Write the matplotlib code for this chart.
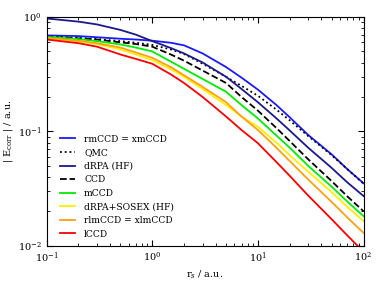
import matplotlib
matplotlib.use("Agg")
import matplotlib.pyplot as plt

rs = [0.1, 0.2, 0.3, 0.5, 0.7, 1, 1.5, 2, 3, 5, 7, 10, 15, 20, 30, 50, 70, 100]
rs_m = [0.1, 0.2, 0.3, 0.5, 0.7, 1, 5, 7, 10, 15, 20, 30, 50, 70, 100]

rmCCD = [0.69, 0.68, 0.665, 0.645, 0.635, 0.62, 0.595, 0.565, 0.48, 0.365, 0.295, 0.232,
         0.17, 0.133, 0.093, 0.063, 0.047, 0.0353]
QMC = [0.675, 0.655, 0.64, 0.615, 0.595, 0.57, 0.52, 0.475, 0.39, 0.30, 0.25, 0.205,
       0.155, 0.125, 0.091, 0.062, 0.047, 0.035]
dRPA = [0.97, 0.91, 0.86, 0.77, 0.70, 0.615, 0.535, 0.48, 0.40, 0.30, 0.235, 0.18,
        0.13, 0.102, 0.072, 0.048, 0.036, 0.0273]
CCD = [0.67, 0.65, 0.635, 0.60, 0.58, 0.55, 0.47, 0.415, 0.34, 0.265, 0.20, 0.152,
       0.107, 0.0825, 0.057, 0.0368, 0.0272, 0.0201]
mCCD = [0.67, 0.64, 0.615, 0.575, 0.54, 0.50, 0.222, 0.17, 0.13,
        0.092, 0.0722, 0.05, 0.0329, 0.0245, 0.0182]
SOSEX = [0.65, 0.61, 0.58, 0.52, 0.47, 0.42, 0.35, 0.30, 0.235, 0.17, 0.135, 0.11,
         0.08, 0.0621, 0.0445, 0.0295, 0.022, 0.0165]
rlmCCD = [0.655, 0.62, 0.59, 0.54, 0.49, 0.44, 0.365, 0.31, 0.245, 0.18, 0.135, 0.103,
          0.072, 0.0552, 0.038, 0.0242, 0.0178, 0.013]
lCCD = [0.635, 0.59, 0.55, 0.47, 0.43, 0.39, 0.315, 0.265, 0.20, 0.135, 0.103, 0.079,
        0.054, 0.041, 0.0275, 0.0171, 0.0124, 0.0089]

labels = ["rmCCD = xmCCD", "QMC", "dRPA (HF)", "CCD", "mCCD",
          "dRPA+SOSEX (HF)", "rlmCCD = xlmCCD", "lCCD"]

plt.rcParams['font.family'] = ['DejaVu Serif']
plt.rcParams['mathtext.fontset'] = 'dejavuserif'

fig = plt.figure(figsize=(3.82, 2.87), dpi=100)
ax = fig.add_axes([0.122, 0.143, 0.8296, 0.798])

series = [(rs, rmCCD), (rs, QMC), (rs, dRPA), (rs, CCD), (rs_m, mCCD),
          (rs, SOSEX), (rs, rlmCCD), (rs, lCCD)]
colors = ['#1a1aff', 'black', '#1a1a8c', 'black', '#00ee00', '#ffee00', '#ffa010', '#ff0000']
styles = ['-', ':', '-', '--', '-', '-', '-', '-']
for (x, s), lab, c, ls in zip(series, labels, colors, styles):
    ax.plot(x, s, color=c, ls=ls, lw=1.3, label=lab)

ax.set_xscale('log')
ax.set_yscale('log')
ax.set_xlim(0.1, 100)
ax.set_ylim(0.01, 1)
ax.tick_params(which='both', direction='in', top=True, right=True, labelsize=7)
ax.tick_params(which='major', length=4)
ax.tick_params(which='minor', length=2)
ax.set_xlabel(r'r$_s$ / a.u.', fontsize=7, labelpad=2)
ax.set_ylabel(r'| E$_{\rm corr}$ | / a.u.', fontsize=7, labelpad=2)
ax.legend(loc='lower left', frameon=False, fontsize=6.6, handlelength=1.6,
          handletextpad=1.0, labelspacing=0.5, borderaxespad=0.4,
          bbox_to_anchor=(0.02, 0.0))

fig.savefig('out.png', dpi=100)
